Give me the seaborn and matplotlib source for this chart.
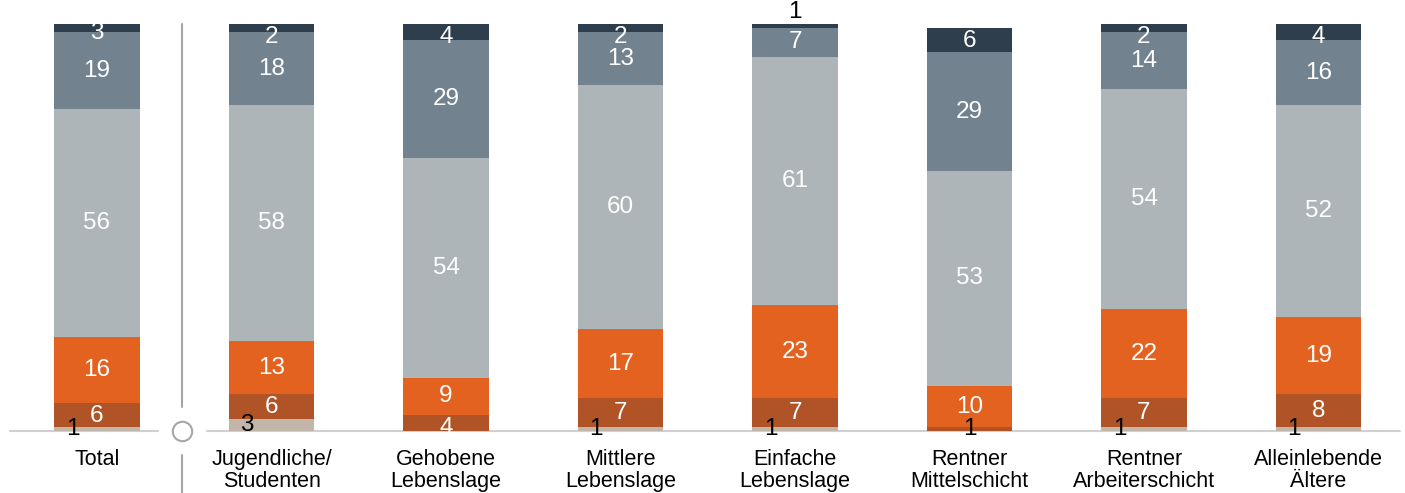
import matplotlib
matplotlib.use("Agg")
import matplotlib.pyplot as plt
import seaborn as sns
import numpy as np
import pandas as pd
from matplotlib.lines import Line2D

categories = ["Total", "Jugendliche/\nStudenten", "Gehobene\nLebenslage", "Mittlere\nLebenslage",
              "Einfache\nLebenslage", "Rentner\nMittelschicht", "Rentner\nArbeiterschicht",
              "Alleinlebende\nÄltere"]
seg_beige  = [1, 3, 0, 1, 1, 0, 1, 1]
seg_brown  = [6, 6, 4, 7, 7, 1, 7, 8]
seg_orange = [16, 13, 9, 17, 23, 10, 22, 19]
seg_light  = [56, 58, 54, 60, 61, 53, 54, 52]
seg_slate  = [19, 18, 29, 13, 7, 29, 14, 16]
seg_navy   = [3, 2, 4, 2, 1, 6, 2, 4]

segments = [seg_beige, seg_brown, seg_orange, seg_light, seg_slate, seg_navy]
colors = ["#c2b6ab", "#b05428", "#e36220", "#adb5b8", "#72828e", "#2e3e4d"]

sns.set_theme(style="white")
plt.rcParams["font.family"] = ["Liberation Sans", "DejaVu Sans"]

fig = plt.figure(figsize=(14.05, 4.93), dpi=100)
ax = fig.add_axes([0, 62 / 493, 1, 407 / 493])

NUM_FS = 17.5
bottom = np.zeros(len(categories))
for k, (vals, col) in enumerate(zip(segments, colors)):
    df = pd.DataFrame({"cat": categories, "val": vals})
    sns.barplot(data=df, x="cat", y="val", order=categories, color=col, saturation=1,
                width=0.49, bottom=bottom.copy(), ax=ax, linewidth=0, edgecolor="none")
    for i, v in enumerate(vals):
        if v <= 0:
            continue
        mid = bottom[i] + v / 2
        top = bottom[i] + v
        if k == 0:
            ax.text(i - 0.14, mid, str(v), ha="center", va="center", color="black",
                    fontsize=NUM_FS, clip_on=False)
        elif k == len(segments) - 1 and v <= 1:
            ax.text(i, top + 0.3, str(v), ha="center", va="bottom", color="black",
                    fontsize=NUM_FS, clip_on=False)
        elif v <= 1:
            ax.text(i, mid, str(v), ha="center", va="center", color="black",
                    fontsize=NUM_FS, clip_on=False)
        else:
            y = min(mid, top - 3.2)
            ax.text(i, y, str(v), ha="center", va="center", color="white",
                    fontsize=NUM_FS, clip_on=False)
    bottom = bottom + np.array(vals)

ax.set_xlim(-97 / 174.5, (1405 - 97) / 174.5)
ax.set_ylim(0, 100)
ax.set_xlabel("")
ax.set_ylabel("")
ax.set_yticks([])
for s in ax.spines.values():
    s.set_visible(False)
ax.tick_params(axis="x", length=0, pad=13, labelsize=15.5, labelcolor="black")
ax.set_xticks(range(len(categories)))
ax.set_xticklabels(categories, linespacing=1.05)

sep = (182 - 97) / 174.5
# baseline
ax.add_line(Line2D([(10 - 97) / 174.5, (158 - 97) / 174.5], [0, 0], color="#d0d0d0",
                   lw=1.5, clip_on=False, zorder=0))
ax.add_line(Line2D([(207 - 97) / 174.5, (1400 - 97) / 174.5], [0, 0], color="#d0d0d0",
                   lw=1.5, clip_on=False, zorder=0))
# vertical separator
ax.add_line(Line2D([sep, sep], [100, (431 - 407) / 4.07], color="#a6a6a6", lw=1.5,
                   clip_on=False))
ax.add_line(Line2D([sep, sep], [(431 - 455) / 4.07, -15.5], color="#a6a6a6", lw=1.5,
                   clip_on=False))
# circle marker
ax.plot([sep], [0], marker="o", markersize=14, markerfacecolor="white",
        markeredgecolor="#a6a6a6", markeredgewidth=1.5, clip_on=False, zorder=5)

fig.savefig("out.png", dpi=100)
